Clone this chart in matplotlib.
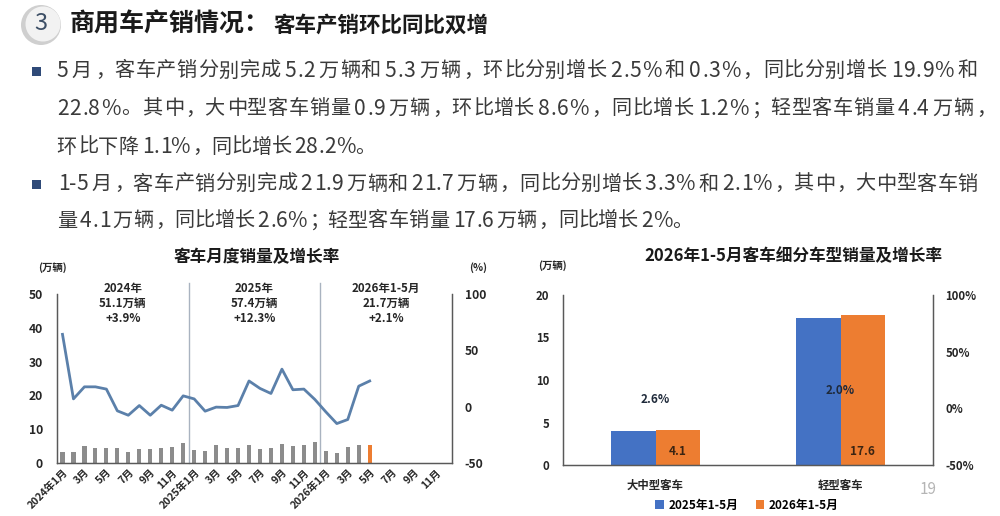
import numpy as np
import matplotlib
matplotlib.use("Agg")
import matplotlib.pyplot as plt
from matplotlib.patches import Ellipse, Rectangle, Patch
from matplotlib.font_manager import findfont, FontProperties
from matplotlib.ft2font import FT2Font
try:
    from matplotlib.ft2font import LoadFlags
    NOHINT = LoadFlags.NO_HINTING
except Exception:
    from matplotlib.ft2font import LOAD_NO_HINTING as NOHINT

plt.rcParams['font.family'] = ['Noto Sans CJK SC', 'DejaVu Sans']
plt.rcParams['axes.unicode_minus'] = False

# ---------------- data ----------------
month_labels = (["2024年1月"] + [f"{m}月" for m in range(2, 13)] +
                ["2025年1月"] + [f"{m}月" for m in range(2, 13)] +
                ["2026年1月"] + [f"{m}月" for m in range(2, 13)])
monthly_sales = [3.4, 3.4, 5.1, 4.3, 4.3, 4.3, 3.4, 4.0, 4.0, 4.3, 4.6, 6.0,
                 3.8, 3.5, 5.3, 4.5, 4.4, 5.3, 4.1, 4.4, 5.6, 5.0, 5.2, 6.3,
                 3.5, 2.9, 4.7, 5.3, 5.3]
monthly_growth = [64.2, 6.9, 17.6, 17.6, 15.6, -3.7, -7.6, 1.0, -7.6, 1.3, -3.1, 9.6,
                  6.9, -4.0, -0.4, -0.7, 1.0, 22.8, 16.2, 11.7, 33.3, 15.0, 15.6, 6.4,
                  -4.6, -15.0, -11.4, 18.2, 22.8]
period_names = ["2024年", "2025年", "2026年1-5月"]
period_totals = [51.1, 57.4, 21.7]
period_growth = [3.9, 12.3, 2.1]

seg_categories = ["大中型客车", "轻型客车"]
seg_2025 = [4.0, 17.3]
seg_2026 = [4.1, 17.6]
seg_growth = [2.6, 2.0]
seg_series = ["2025年1-5月", "2026年1-5月"]

header_main = "商用车产销情况："
header_sub = "客车产销环比同比双增"
bullet_lines = [
    "5月，客车产销分别完成5.2万辆和5.3万辆，环比分别增长2.5%和0.3%，同比分别增长19.9%和",
    "22.8%。其中，大中型客车销量0.9万辆，环比增长8.6%，同比增长1.2%；轻型客车销量4.4万辆，",
    "环比下降1.1%，同比增长28.2%。",
    "1-5月，客车产销分别完成21.9万辆和21.7万辆，同比分别增长3.3%和2.1%，其中，大中型客车销",
    "量4.1万辆，同比增长2.6%；轻型客车销量17.6万辆，同比增长2%。",
]
bullet_starts = [True, False, False, True, False]

# ---------------- figure ----------------
W, H = 1000, 516
fig = plt.figure(figsize=(W / 100, H / 100), dpi=100)
fig.patch.set_facecolor("white")

def fx(px):
    return px / W

def fy(py):
    return 1 - py / H

TXT = "#262626"

BODY_SIZE = 14.5
LATIN_SIZE = 15.2
_fpath = findfont(FontProperties(family="Noto Sans CJK SC"))
ft_cjk = FT2Font(_fpath)
ft_cjk.set_size(BODY_SIZE, 100)
ft_lat = FT2Font(_fpath)
ft_lat.set_size(LATIN_SIZE, 100)

def is_ideo(c):
    return 0x4E00 <= ord(c) <= 0x9FFF

def is_ascii(c):
    return ord(c) < 128

def glyph_metrics(c):
    f = ft_lat if is_ascii(c) else ft_cjk
    g = f.load_char(ord(c), flags=NOHINT)
    return g.linearHoriAdvance / 65536.0, g.horiBearingX / 64.0

def layout_line(s, autospace=3.0):
    out, x = [], 0.0
    prev = None
    for c in s:
        if prev is not None and ((is_ideo(prev) and is_ascii(c)) or (is_ascii(prev) and is_ideo(c))):
            x += autospace
        adv, bx = glyph_metrics(c)
        out.append((x, adv, bx))
        x += adv
        prev = c
    return out, x

def draw_body_line(x0, y, s, right, **kw):
    pos, total = layout_line(s)
    extra = (right - x0 - total) / (len(s) - 1)
    for i, (c, (x, adv, bx)) in enumerate(zip(s, pos)):
        size = LATIN_SIZE if is_ascii(c) else BODY_SIZE
        fig.text(fx(x0 + x + i * extra + bx), fy(y), c, ha="left", va="center",
                 fontsize=size, **kw)

# header badge
fig.add_artist(Ellipse((fx(41), fy(25)), 40 / W, 40 / H, transform=fig.transFigure,
                       facecolor="#cfcfcf", edgecolor="none"))
fig.add_artist(Ellipse((fx(43), fy(24)), 35 / W, 35 / H, transform=fig.transFigure,
                       facecolor="#f2f2f2", edgecolor="none"))
fig.text(fx(41), fy(24), "3", fontsize=17, color="#3d4f66", ha="center", va="center")
fig.text(fx(70), fy(24), header_main, fontsize=18, fontweight="bold", color="#1a1a1a",
         ha="left", va="center")
fig.text(fx(273), fy(25), header_sub, fontsize=15.5, fontweight="bold", color="#1a1a1a",
         ha="left", va="center")

line_y = [71, 109, 147, 184, 221]
line_right = [977, 994, 375, 977, 692]
for txt, y, b, r in zip(bullet_lines, line_y, bullet_starts, line_right):
    if b:
        fig.add_artist(Rectangle((fx(32), fy(y + 5)), 9 / W, 9 / H, transform=fig.transFigure,
                                 facecolor="#2f4a78", edgecolor="none"))
    draw_body_line(56, y, txt, r, color="#3a3a3a")

# ---------------- left chart ----------------
ax = fig.add_axes([fx(57), fy(463), 395 / W, 169 / H])
ax2 = ax.twinx()
x_all = np.arange(len(month_labels))
xs = np.arange(len(monthly_sales))
colors = ["#8c8c8c"] * len(monthly_sales)
colors[-1] = "#ED7D31"
ax.bar(xs, monthly_sales, width=0.38, color=colors, zorder=2)
ax2.plot(xs, monthly_growth, color="#5b80aa", lw=2, zorder=3)
ax.set_xlim(-0.5, len(month_labels) - 0.5)
ax.set_ylim(0, 50)
ax.set_yticks(np.arange(0, 51, 10))
ax2.set_ylim(-50, 100)
ax2.set_yticks([-50, 0, 50, 100])
ax.set_xticks(x_all[::2])
ax.set_xticklabels(month_labels[::2], rotation=45, ha="right", rotation_mode="anchor",
                   fontsize=7.5, fontweight="bold", color=TXT)
for a in (ax, ax2):
    a.spines["top"].set_visible(False)
    for s in ("left", "right", "bottom"):
        a.spines[s].set_color("#595959")
        a.spines[s].set_linewidth(0.9)
    a.tick_params(length=0, pad=4)
ax.tick_params(axis="y", labelsize=8.7, colors=TXT, pad=10)
ax2.tick_params(axis="y", labelsize=8.7, colors=TXT, pad=9)
for lab in ax.get_yticklabels() + ax2.get_yticklabels():
    lab.set_fontweight("bold")
ax.tick_params(axis="x", pad=3)

# period separators and annotations
for i in range(1, len(period_names)):
    ax.plot([12 * i - 0.5, 12 * i - 0.5], [0, 53.3], color="#a9b3c0", lw=1, clip_on=False, zorder=1)
for i, (n, t, g) in enumerate(zip(period_names, period_totals, period_growth)):
    ax.text(12 * i + 5.5, 53.5, f"{n}\n{t}万辆\n+{g}%", ha="center", va="top",
            fontsize=8.3, fontweight="bold", color=TXT, linespacing=1.2)

fig.text(fx(52), fy(268), "(万辆)", fontsize=7.5, fontweight="bold", color=TXT, ha="center", va="center")
fig.text(fx(478), fy(268), "(%)", fontsize=7.5, fontweight="bold", color=TXT, ha="center", va="center")
fig.text(fx(257), fy(257), "客车月度销量及增长率", fontsize=12, fontweight="bold", color="#1a1a1a",
         ha="center", va="center")

# ---------------- right chart ----------------
bx = fig.add_axes([fx(563), fy(465), 370 / W, 170 / H])
bx2 = bx.twinx()
xc = np.arange(len(seg_categories))
bw = 0.238
bx.bar(xc - bw / 2, seg_2025, width=bw, color="#4472C4", zorder=2)
bx.bar(xc + bw / 2, seg_2026, width=bw, color="#ED7D31", zorder=2)
bx.set_xlim(-0.5, 1.5)
bx.set_ylim(0, 20)
bx.set_yticks(np.arange(0, 21, 5))
bx2.set_ylim(-50, 100)
bx2.set_yticks([-50, 0, 50, 100])
bx2.set_yticklabels([f"{v}%" for v in [-50, 0, 50, 100]])
bx.set_xticks(xc)
bx.set_xticklabels(seg_categories, fontsize=8.2, fontweight="bold", color=TXT)
for a in (bx, bx2):
    a.spines["top"].set_visible(False)
    for s in ("left", "right", "bottom"):
        a.spines[s].set_color("#595959")
        a.spines[s].set_linewidth(0.9)
    a.tick_params(length=0)
bx.tick_params(axis="x", pad=10)
bx.tick_params(axis="y", labelsize=8.2, colors=TXT, pad=10)
bx2.tick_params(axis="y", labelsize=8.2, colors=TXT, pad=9)
for lab in bx.get_yticklabels() + bx2.get_yticklabels():
    lab.set_fontweight("bold")

for xi, v in zip(xc + bw / 2, seg_2026):
    bx.annotate(f"{v}", (xi, 0), xytext=(0, 10), textcoords="offset points",
                ha="center", va="center", fontsize=8.5, fontweight="bold", color="#3b2412")
growth_offsets = [4, 11]
for xi, g, off in zip(xc, seg_growth, growth_offsets):
    bx2.annotate(f"{g:.1f}%", (xi, g), xytext=(0, off), textcoords="offset points",
                 ha="center", va="center", fontsize=8.5, fontweight="bold", color="#1f2a3a")

handles = [Patch(facecolor="#4472C4"), Patch(facecolor="#ED7D31")]
fig.legend(handles, seg_series, loc="center", bbox_to_anchor=(fx(747), fy(505)), ncol=2,
           frameon=False, prop={"size": 8.5, "weight": "bold"}, handlelength=0.7, handleheight=0.7,
           handletextpad=0.4, columnspacing=1.5)

fig.text(fx(552), fy(266), "(万辆)", fontsize=7.5, fontweight="bold", color=TXT, ha="center", va="center")
fig.text(fx(793), fy(256), "2026年1-5月客车细分车型销量及增长率", fontsize=12, fontweight="bold",
         color="#1a1a1a", ha="center", va="center")
fig.text(fx(928), fy(489), "19", fontsize=11, color="#b5b5b5", ha="center", va="center")

fig.savefig("out.png", dpi=100, facecolor="white")
